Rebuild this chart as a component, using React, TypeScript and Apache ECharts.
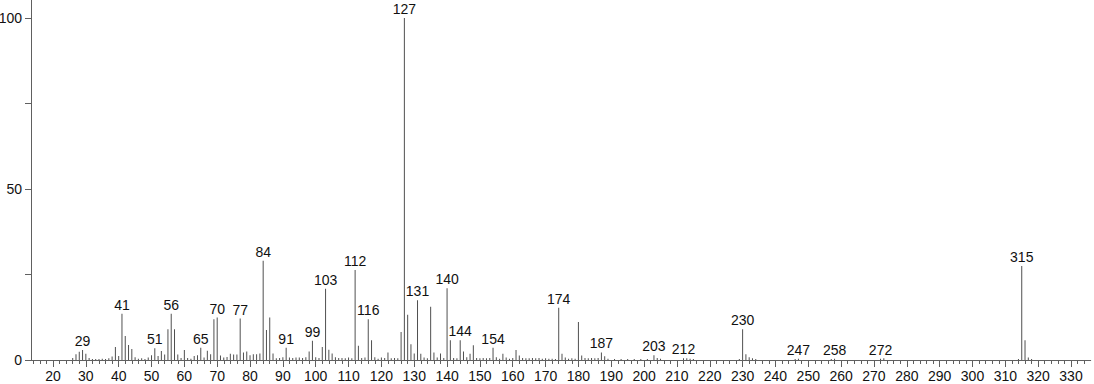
import React, { useEffect, useRef } from "react";
import * as echarts from "echarts";

// m/z values and relative intensities (%)
const mzValues: number[] = [
  26, 27, 28, 29, 30, 31, 32, 33, 34, 35, 36, 37, 38, 39, 40, 41, 42, 43, 44, 45, 46, 47, 48, 49, 50,
  51, 52, 53, 54, 55, 56, 57, 58, 59, 60, 61, 62, 63, 64, 65, 66, 67, 68, 69, 70, 71, 72, 73, 74, 75,
  76, 77, 78, 79, 80, 81, 82, 83, 84, 85, 86, 87, 88, 89, 90, 91, 92, 93, 94, 95, 96, 97, 98, 99, 100,
  101, 102, 103, 104, 105, 106, 107, 108, 109, 110, 111, 112, 113, 114, 115, 116, 117, 118, 119, 120,
  121, 122, 123, 124, 125, 126, 127, 128, 129, 130, 131, 132, 133, 134, 135, 136, 137, 138, 139, 140,
  141, 142, 143, 144, 145, 146, 147, 148, 149, 150, 151, 152, 153, 154, 155, 156, 157, 158, 159, 160,
  161, 162, 163, 164, 165, 166, 167, 168, 169, 170, 171, 172, 173, 174, 175, 176, 177, 178, 179, 180,
  181, 182, 183, 184, 185, 186, 187, 188, 189, 191, 193, 195, 197, 199, 201, 203, 204, 205, 212, 213,
  214, 215, 229, 230, 231, 232, 233, 234, 246, 247, 257, 258, 272, 273, 314, 315, 316, 317, 318,
];
const intensities: number[] = [
  0.6, 1.7, 2.4, 2.9, 1.8, 0.6, 0.3, 0.3, 0.3, 0.4, 0.3, 0.5, 1.0, 3.8, 1.2, 13.5, 7.0, 4.4, 3.2, 0.8, 0.4, 0.5, 0.3, 0.7, 1.4,
  3.4, 1.2, 2.6, 1.6, 9.0, 13.5, 9.0, 1.6, 0.6, 2.9, 0.6, 0.4, 1.2, 1.4, 3.6, 0.7, 2.7, 1.7, 11.9, 12.4, 1.3, 0.7, 0.9, 1.8, 1.6,
  1.6, 12.1, 2.2, 2.5, 1.4, 1.7, 1.7, 1.9, 29.0, 8.8, 12.4, 1.9, 0.5, 0.6, 0.8, 3.6, 0.7, 0.6, 0.7, 0.7, 0.6, 0.8, 2.5, 5.6, 0.8,
  0.6, 3.8, 20.8, 3.0, 1.9, 0.8, 0.6, 0.6, 0.5, 0.7, 0.5, 26.3, 4.2, 0.6, 0.7, 11.9, 5.8, 0.8, 0.4, 0.7,
  0.6, 2.2, 0.5, 0.6, 0.5, 8.2, 100, 13.2, 4.6, 1.9, 17.5, 1.8, 0.7, 0.5, 15.6, 2.2, 0.7, 1.9, 0.6, 21.0,
  5.8, 0.6, 0.5, 5.8, 2.5, 0.8, 1.8, 4.3, 0.6, 0.5, 0.6, 0.5, 0.6, 3.6, 0.8, 0.4, 1.8, 0.7, 0.4, 0.6,
  2.9, 1.3, 0.6, 0.5, 0.5, 0.6, 0.5, 0.6, 0.4, 0.5, 0.4, 0.4, 0.3, 15.3, 1.8, 0.7, 0.4, 0.5, 0.4, 11.1,
  1.3, 0.6, 0.5, 0.6, 0.5, 0.6, 2.2, 1.1, 0.4, 0.3, 0.3, 0.3, 0.3, 0.3, 0.3, 1.4, 0.6, 0.4, 0.5, 0.5,
  0.4, 0.3, 0.3, 9.0, 1.7, 0.8, 0.5, 0.3, 0.3, 0.4, 0.3, 0.4, 0.4, 0.5, 0.3, 27.5, 5.8, 0.7, 0.3,
];
const labeledPeaks: number[] = [
  29, 41, 51, 56, 65, 70, 77, 84, 91, 99, 103, 112, 116, 127, 131, 140, 144, 154, 174, 187, 203, 212,
  230, 247, 258, 272, 315,
];
const xMajorTicks: number[] = [20, 30, 40, 50, 60, 70, 80, 90, 100, 110, 120, 130, 140, 150, 160, 170, 180, 190, 200, 210, 220, 230, 240, 250, 260, 270, 280, 290, 300, 310, 320, 330];
const yTickValues: number[] = [0, 25, 50, 75, 100];
const yLabelValues: number[] = [0, 50, 100];

export default function App() {
  const ref = useRef<HTMLDivElement>(null);
  useEffect(() => {
    document.body.style.margin = "0";
    if (!ref.current) return;
    const chart = echarts.init(ref.current, null, { renderer: "svg" });
    const minorTicks: number[] = [];
    for (let v = 14; v <= 334; v += 2) if (v % 10 !== 0) minorTicks.push(v);
    const data = mzValues.map((mz, i) => {
      const item: any = { value: [mz, intensities[i]] };
      if (labeledPeaks.indexOf(mz) >= 0) item.label = { show: true };
      return item;
    });
    const font = "Liberation Sans, Arial, sans-serif";
    chart.setOption({
      animation: false,
      grid: { left: 31, right: 3.3, top: 0, bottom: 24, containLabel: false, outerBoundsMode: "none" },
      xAxis: [
        {
          type: "value",
          position: "bottom",
          min: 13.3,
          max: 336,
          axisLine: { show: true, lineStyle: { color: "#606060", width: 1 } },
          axisTick: { show: true, length: 7, customValues: xMajorTicks, lineStyle: { color: "#606060" } },
          axisLabel: { show: true, customValues: xMajorTicks, margin: 9, fontSize: 14, color: "#111", fontFamily: font },
          splitLine: { show: false },
        },
        {
          type: "value",
          position: "bottom",
          min: 13.3,
          max: 336,
          axisLine: { show: false },
          axisTick: { show: true, length: 4, customValues: minorTicks, lineStyle: { color: "#606060" } },
          axisLabel: { show: false },
          splitLine: { show: false },
        },
      ],
      yAxis: {
        type: "value",
        min: 0,
        max: 105.26,
        axisLine: { show: true, lineStyle: { color: "#606060", width: 1 } },
        axisTick: { show: true, length: 6, customValues: yTickValues, lineStyle: { color: "#606060" } },
        axisLabel: { show: true, customValues: yLabelValues, margin: 9, fontSize: 14, color: "#111", fontFamily: font },
        splitLine: { show: false },
      },
      series: [
        {
          type: "bar",
          xAxisIndex: 0,
          barWidth: 1,
          itemStyle: { color: "#505050" },
          label: {
            show: false,
            position: "top",
            distance: 2,
            fontSize: 14,
            color: "#111",
            fontFamily: font,
            formatter: (p: any) => String(p.value[0]),
          },
          data,
        },
      ],
    });
    return () => chart.dispose();
  }, []);
  return (
    <div
      ref={ref}
      style={{ position: "fixed", left: 0, top: 0, width: 1094, height: 384, background: "#fff" }}
    />
  );
}
